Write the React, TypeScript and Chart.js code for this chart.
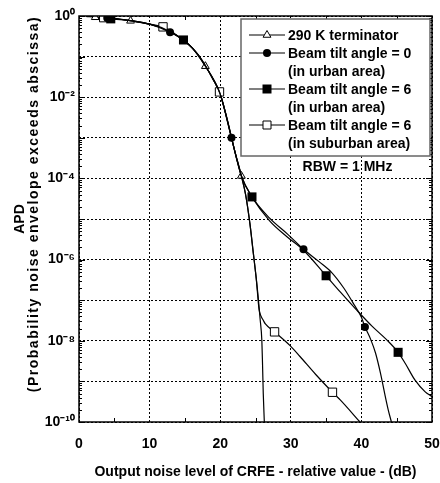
import React, { useEffect, useRef } from 'react';
import { Chart, registerables } from 'chart.js';

Chart.register(...registerables);

// ---------- data ----------
const terminatorX = [1.0, 2.3, 5.0, 7.3, 10.0, 12.0, 14.0, 16.0, 17.9, 19.0, 20.0, 21.0, 22.0, 23.0, 23.6, 24.2, 24.7, 25.1, 25.4, 25.65, 25.9, 26.0, 26.1, 26.25];
const terminatorY = [0.98, 0.93, 0.87, 0.76, 0.63, 0.49, 0.32, 0.166, 0.058, 0.0275, 0.012, 2.8e-3, 5.2e-4, 1.15e-4, 4.0e-5, 7.9e-6, 1.4e-6, 3.5e-7, 1.1e-7, 3.5e-8, 1.0e-8, 2.5e-9, 5.0e-10, 1.0e-10];
const terminatorMarks = [1, 3, 8, 13];

const beam0UrbanX = [4.0, 7.0, 10.0, 12.9, 15.0, 17.0, 19.0, 20.0, 21.6, 23.0, 24.5, 27.0, 29.5, 31.8, 34.0, 35.8, 37.5, 39.0, 40.0, 40.5, 41.3, 42.0, 42.7, 43.3, 43.8, 44.25];
const beam0UrbanY = [0.89, 0.78, 0.63, 0.40, 0.24, 0.105, 0.0275, 0.012, 1.0e-3, 1.15e-4, 3.5e-5, 1.05e-5, 4.3e-6, 1.8e-6, 8.9e-7, 4.8e-7, 2.0e-7, 7.6e-8, 3.8e-8, 2.2e-8, 1.1e-8, 5.0e-9, 1.6e-9, 5.0e-10, 2.0e-10, 1.0e-10];
const beam0UrbanMarks = [0, 3, 8, 13, 19];

const beam6UrbanX = [4.5, 7.0, 10.0, 12.0, 14.8, 16.0, 17.0, 19.0, 20.0, 21.6, 23.0, 24.5, 27.0, 29.5, 31.8, 35.0, 37.0, 39.3, 41.5, 43.6, 45.2, 46.2, 47.6, 49.0, 50.0];
const beam6UrbanY = [0.85, 0.78, 0.63, 0.49, 0.257, 0.166, 0.105, 0.0275, 0.012, 1.0e-3, 1.15e-4, 3.5e-5, 9.0e-6, 3.6e-6, 1.7e-6, 4.0e-7, 1.6e-7, 5.8e-8, 2.3e-8, 1.05e-8, 5.2e-9, 2.8e-9, 1.07e-9, 5.6e-10, 4.2e-10];
const beam6UrbanMarks = [0, 4, 11, 15, 20];

const beam6SuburbanX = [3.5, 7.0, 10.0, 11.9, 14.0, 16.0, 17.9, 19.9, 21.0, 22.0, 23.0, 23.6, 24.2, 24.7, 25.1, 25.5, 25.8, 26.1, 26.4, 27.7, 29.9, 31.3, 33.5, 35.9, 37.0, 39.8];
const beam6SuburbanY = [0.91, 0.78, 0.63, 0.54, 0.32, 0.166, 0.058, 0.0135, 2.8e-3, 5.2e-4, 1.15e-4, 4.0e-5, 7.9e-6, 1.4e-6, 3.5e-7, 6.0e-8, 4.0e-8, 3.2e-8, 2.6e-8, 1.66e-8, 7.6e-9, 4.1e-9, 1.5e-9, 5.4e-10, 3.5e-10, 1.0e-10];
const beam6SuburbanMarks = [0, 3, 7, 19, 23];

const xTickValues = [0, 10, 20, 30, 40, 50];
const xMinorTickValues = [5, 15, 25, 35, 45];
const yDecadeExponents = [0, -1, -2, -3, -4, -5, -6, -7, -8, -9, -10];
const yLabelExponents = [0, -2, -4, -6, -8, -10];

const legendEntries = [
  ['290 K terminator'],
  ['Beam tilt angle = 0', '(in urban area)'],
  ['Beam tilt angle = 6', '(in urban area)'],
  ['Beam tilt angle = 6', '(in suburban area)'],
];
const noteText = 'RBW = 1 MHz';
const xTitle = 'Output noise level of CRFE - relative value - (dB)';
const yTitle = ['APD', '(Probability noise envelope exceeds abscissa)'];

// ---------- styling ----------
const FONT_FAMILY = "'Liberation Sans', Arial, Helvetica, sans-serif";
type MarkerKind = 'triangle' | 'circle' | 'rectFilled' | 'rectOpen';
const markerKinds: MarkerKind[] = ['triangle', 'circle', 'rectFilled', 'rectOpen'];

const SUP: Record<string, string> = { '0': '⁰', '1': '¹', '2': '²', '3': '³', '4': '⁴', '5': '⁵', '6': '⁶', '7': '⁷', '8': '⁸', '9': '⁹', '-': '⁻' };
const sup = (s: string) => s.split('').map((c) => SUP[c] || c).join('');

function drawMarker(ctx: CanvasRenderingContext2D, kind: MarkerKind, x: number, y: number) {
  ctx.save();
  ctx.lineWidth = 1;
  ctx.strokeStyle = '#000';
  ctx.beginPath();
  if (kind === 'triangle') {
    const r = 4.5;
    ctx.moveTo(x, y - r);
    ctx.lineTo(x + r * 0.866, y + r * 0.5);
    ctx.lineTo(x - r * 0.866, y + r * 0.5);
    ctx.closePath();
    ctx.fillStyle = '#fff';
    ctx.fill();
    ctx.stroke();
  } else if (kind === 'circle') {
    ctx.arc(x, y, 4, 0, Math.PI * 2);
    ctx.fillStyle = '#000';
    ctx.fill();
  } else if (kind === 'rectFilled') {
    ctx.rect(x - 4.5, y - 4.5, 9, 9);
    ctx.fillStyle = '#000';
    ctx.fill();
  } else {
    ctx.rect(x - 4, y - 4, 8, 8);
    ctx.fillStyle = '#fff';
    ctx.fill();
    ctx.stroke();
  }
  ctx.restore();
}

const decorPlugin = {
  id: 'decor',
  afterDraw(chart: any) {
    const { ctx, chartArea: a, scales } = chart;
    const xs = scales.x;
    const ys = scales.y;
    ctx.save();
    ctx.strokeStyle = '#000';
    ctx.lineWidth = 1;
    ctx.setLineDash([]);
    ctx.beginPath();
    for (const e of yDecadeExponents) {
      const pyMajor = Math.round(ys.getPixelForValue(Math.pow(10, e))) + 0.5;
      ctx.moveTo(a.left, pyMajor);
      ctx.lineTo(a.left + 6, pyMajor);
      ctx.moveTo(a.right, pyMajor);
      ctx.lineTo(a.right - 6, pyMajor);
      if (e === 0) continue;
      for (let m = 2; m <= 9; m++) {
        const py = Math.round(ys.getPixelForValue(m * Math.pow(10, e))) + 0.5;
        ctx.moveTo(a.left, py);
        ctx.lineTo(a.left + 3, py);
        ctx.moveTo(a.right, py);
        ctx.lineTo(a.right - 3, py);
      }
    }
    for (const v of xMinorTickValues) {
      const px = Math.round(xs.getPixelForValue(v)) + 0.5;
      ctx.moveTo(px, a.bottom);
      ctx.lineTo(px, a.bottom - 4);
      ctx.moveTo(px, a.top);
      ctx.lineTo(px, a.top + 4);
    }
    ctx.stroke();

    ctx.lineWidth = 1.5;
    ctx.strokeRect(a.left, a.top, a.right - a.left, a.bottom - a.top);

    // y axis title (two lines, rotated)
    ctx.save();
    ctx.fillStyle = '#000';
    ctx.font = `bold 14px ${FONT_FAMILY}`;
    ctx.textAlign = 'center';
    ctx.textBaseline = 'middle';
    ctx.translate(20, (a.top + a.bottom) / 2);
    ctx.rotate(-Math.PI / 2);
    ctx.fillText(yTitle[0], 0, 0);
    ctx.restore();
    ctx.save();
    ctx.fillStyle = '#000';
    ctx.font = `bold 14px ${FONT_FAMILY}`;
    ctx.textAlign = 'center';
    ctx.textBaseline = 'middle';
    (ctx as any).letterSpacing = '1.5px';
    ctx.translate(34, 204);
    ctx.rotate(-Math.PI / 2);
    ctx.fillText(yTitle[1], 0, 0);
    ctx.restore();

    // legend box
    const bx = a.left + 162;
    const by = a.top + 3;
    const bw = a.right - 2 - bx;
    const bh = 137;
    ctx.fillStyle = '#fff';
    ctx.fillRect(bx, by, bw, bh);
    ctx.strokeStyle = '#666';
    ctx.lineWidth = 1.5;
    ctx.strokeRect(bx, by, bw, bh);

    ctx.font = `bold 14px ${FONT_FAMILY}`;
    ctx.textBaseline = 'middle';
    ctx.textAlign = 'left';
    ctx.fillStyle = '#000';
    let row = 0;
    const rowH = 18;
    const firstY = by + 16;
    legendEntries.forEach((lines, i) => {
      const y = firstY + row * rowH;
      ctx.strokeStyle = '#000';
      ctx.lineWidth = 1.2;
      ctx.beginPath();
      ctx.moveTo(bx + 8, y);
      ctx.lineTo(bx + 44, y);
      ctx.stroke();
      drawMarker(ctx, markerKinds[i], bx + 26, y);
      lines.forEach((t, j) => {
        ctx.fillStyle = '#000';
        ctx.fillText(t, bx + 47, firstY + (row + j) * rowH + 1);
      });
      row += lines.length;
    });

    ctx.textAlign = 'center';
    ctx.fillText(noteText, bx + bw / 2 + 12, by + bh + 11);
    ctx.restore();
  },
};

function makeDataset(xs: number[], ys: number[], marks: number[], kind: MarkerKind, label: string) {
  const filled = kind === 'circle' || kind === 'rectFilled';
  const isRect = kind === 'rectFilled' || kind === 'rectOpen';
  const radius = kind === 'triangle' ? 4.5 : kind === 'circle' ? 4 : kind === 'rectFilled' ? 6.4 : 5.9;
  return {
    label,
    data: xs.map((x, i) => ({ x, y: ys[i] })),
    borderColor: '#000',
    borderWidth: 1.2,
    fill: false,
    cubicInterpolationMode: 'monotone' as const,
    pointStyle: isRect ? 'rect' : kind,
    pointRadius: (c: any) => (marks.includes(c.dataIndex) ? radius : 0),
    pointHoverRadius: (c: any) => (marks.includes(c.dataIndex) ? radius : 0),
    pointBackgroundColor: filled ? '#000' : '#fff',
    pointBorderColor: '#000',
    pointBorderWidth: filled ? 0 : 1,
  };
}

export default function App() {
  const canvasRef = useRef<HTMLCanvasElement | null>(null);

  useEffect(() => {
    if (!canvasRef.current) return;
    const font = { family: FONT_FAMILY, size: 14, weight: 'bold' as const };
    const chart = new Chart(canvasRef.current, {
      type: 'line',
      data: {
        datasets: [
          makeDataset(beam6UrbanX, beam6UrbanY, beam6UrbanMarks, 'rectFilled', legendEntries[2].join(' ')),
          makeDataset(beam0UrbanX, beam0UrbanY, beam0UrbanMarks, 'circle', legendEntries[1].join(' ')),
          makeDataset(beam6SuburbanX, beam6SuburbanY, beam6SuburbanMarks, 'rectOpen', legendEntries[3].join(' ')),
          makeDataset(terminatorX, terminatorY, terminatorMarks, 'triangle', legendEntries[0].join(' ')),
        ] as any,
      },
      options: {
        responsive: false,
        animation: false,
        events: [],
        layout: { padding: { top: 16, right: 8, left: 0, bottom: 0 } },
        plugins: { legend: { display: false }, tooltip: { enabled: false } },
        scales: {
          x: {
            type: 'linear',
            min: 0,
            max: 50,
            afterBuildTicks: (axis: any) => {
              axis.ticks = xTickValues.map((v) => ({ value: v }));
            },
            afterFit: (axis: any) => {
              axis.height = 61;
            },
            ticks: { font, color: '#000', padding: 0, maxRotation: 0, autoSkip: false },
            grid: { color: '#000', lineWidth: 1, drawTicks: true, tickLength: 14, tickColor: 'rgba(0,0,0,0)' },
            border: { display: false, dash: [2, 2] },
            title: { display: true, text: xTitle, font, color: '#000', padding: { top: 0, bottom: 2 } },
          },
          y: {
            type: 'logarithmic',
            min: 1e-10,
            max: 1,
            afterBuildTicks: (axis: any) => {
              axis.ticks = yDecadeExponents.map((e) => ({ value: Math.pow(10, e) }));
            },
            afterFit: (axis: any) => {
              axis.width = 79;
            },
            ticks: {
              font,
              color: '#000',
              padding: 4,
              autoSkip: false,
              callback: (v: any) => {
                const e = Math.round(Math.log10(Number(v)));
                return yLabelExponents.includes(e) ? '10' + sup(String(e)) : '';
              },
            },
            grid: { color: '#000', lineWidth: 1, drawTicks: false },
            border: { display: false, dash: [2, 2] },
            title: { display: false },
          },
        },
      } as any,
      plugins: [decorPlugin],
    });
    return () => chart.destroy();
  }, []);

  return (
    <div style={{ position: 'absolute', left: 0, top: 0, width: 440, height: 483, background: '#fff' }}>
      <canvas ref={canvasRef} width={440} height={483} style={{ display: 'block' }} />
    </div>
  );
}
